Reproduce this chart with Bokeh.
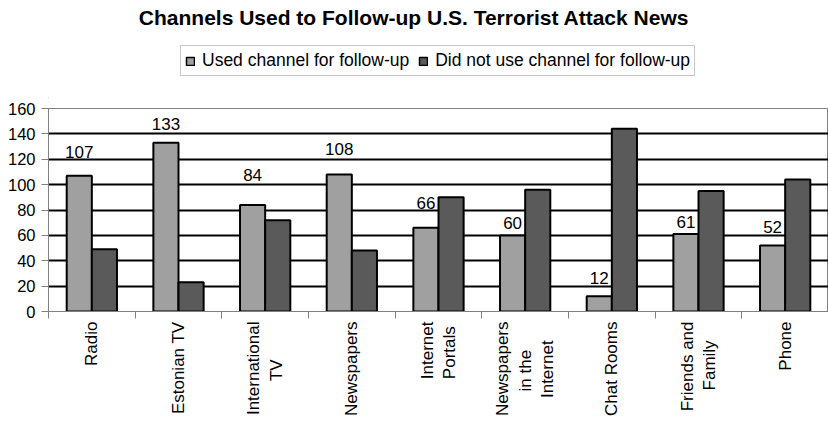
from math import pi
from bokeh.plotting import figure
from bokeh.layouts import column
from bokeh.models import (Range1d, LinearAxis, FixedTicker, Label,
                          Legend, LegendItem, ColumnDataSource)
from bokeh.embed import file_html
from bokeh.resources import INLINE
from bokeh.core.properties import value

# ---------------- data ----------------
title_text = "Channels Used to Follow-up U.S. Terrorist Attack News"
categories = ["Radio", "Estonian TV", "International\nTV", "Newspapers", "Internet\nPortals",
              "Newspapers\nin the\nInternet", "Chat Rooms", "Friends and\nFamily", "Phone"]
used = [107, 133, 84, 108, 66, 60, 12, 61, 52]
not_used = [49, 23, 72, 48, 90, 96, 144, 95, 104]
series_names = ["Used channel for follow-up", "Did not use channel for follow-up"]
y_ticks = [0, 20, 40, 60, 80, 100, 120, 140, 160]

# ---------------- style ----------------
FONT = "Liberation Sans"
LIGHT = "#a0a0a0"
DARK = "#5a5a5a"
AXIS_GRAY = "#808080"
label_offsets_px = [24, 19, 30, 25, 25, 12, 18, 12, 19]  # label lift above bar top (px)
bw = 0.29  # bar width in category units
W, HEAD_H, MAIN_H = 828, 98, 327
FRAME_LEFT = 48

# approximate Arial advance widths (1/1000 em) to centre multi-line axis labels
_W = {' ': 278, 'a': 556, 'd': 556, 'e': 556, 'h': 556, 'i': 222, 'l': 222, 'm': 833,
      'n': 556, 'o': 556, 'p': 556, 'r': 333, 's': 500, 't': 278, 'w': 722, 'y': 500,
      'F': 611, 'I': 278, 'N': 722, 'P': 667, 'T': 611, 'V': 667, 'R': 722, 'E': 667,
      'C': 722, 'c': 500, 'u': 556, 'k': 500, 'f': 278, 'b': 556, 'g': 556}


def _width(s):
    return sum(_W.get(ch, 556) for ch in s)


def centred(label):
    lines = label.split("\n")
    full = max(_width(l) for l in lines)
    return "\n".join(l + "\u00a0" * round((full - _width(l)) / 2 / 278) for l in lines)


n = len(categories)
centers = [i + 0.5 for i in range(n)]
src = ColumnDataSource(dict(
    x_used=[c - bw / 2 for c in centers],
    x_not=[c + bw / 2 for c in centers],
    used=used,
    not_used=not_used,
    used_txt=[str(v) for v in used],
    yoff=[-o for o in label_offsets_px],
))

# ================= header figure: title + legend =================
head = figure(width=W, height=HEAD_H, x_range=Range1d(0, W), y_range=Range1d(0, HEAD_H),
              output_backend="svg", toolbar_location=None,
              x_axis_location=None, y_axis_location=None,
              min_border=0, min_border_left=0, min_border_right=0,
              min_border_top=0, min_border_bottom=0)
head.title_location = None
head.outline_line_color = None
head.xgrid.visible = False
head.ygrid.visible = False
head.background_fill_color = "white"
head.border_fill_color = "white"
# legend swatches only (kept outside the visible header area)
swatch = ColumnDataSource(dict(x=[-100], top=[-100]))
h1 = head.vbar(x="x", top="top", width=1, source=swatch,
               fill_color=LIGHT, line_color="black", line_width=1.5)
h2 = head.vbar(x="x", top="top", width=1, source=swatch,
               fill_color=DARK, line_color="black", line_width=1.5)
head.add_layout(Label(x=413.5 - FRAME_LEFT, y=HEAD_H - 17, x_units="screen", y_units="screen",
                      text=title_text, text_align="center", text_baseline="alphabetic",
                      text_font=FONT, text_font_style="bold", text_font_size="21px",
                      text_color="black"))
legend = Legend(items=[LegendItem(label=series_names[0], renderers=[h1]),
                       LegendItem(label=series_names[1], renderers=[h2])],
                orientation="horizontal", location=(180 - FRAME_LEFT, HEAD_H - 76),
                border_line_color="#909090", border_line_width=1,
                background_fill_color="white", background_fill_alpha=1,
                glyph_width=10, glyph_height=10, label_standoff=7, spacing=9,
                padding=4, margin=0, label_height=20,
                label_text_font=FONT, label_text_font_size="17.5px",
                label_text_color="black")
head.add_layout(legend)

# ================= main chart =================
p = figure(width=W, height=MAIN_H,
           x_range=Range1d(0, n),
           y_range=Range1d(y_ticks[0], y_ticks[-1]),
           output_backend="svg", toolbar_location=None,
           x_axis_location=None,
           min_border_left=FRAME_LEFT, min_border_right=0,
           min_border_top=10, min_border_bottom=114)
p.title_location = None
p.background_fill_color = "white"
p.border_fill_color = "white"
p.outline_line_color = AXIS_GRAY
p.outline_line_width = 1

# grid
p.xgrid.visible = False
p.ygrid.ticker = FixedTicker(ticks=y_ticks[1:-1])
p.ygrid.grid_line_color = "black"
p.ygrid.grid_line_width = 2

# y axis
ya = p.yaxis[0]
ya.ticker = FixedTicker(ticks=y_ticks)
ya.axis_line_color = AXIS_GRAY
ya.major_tick_line_color = AXIS_GRAY
ya.major_tick_out = 7
ya.major_tick_in = 0
ya.minor_tick_line_color = None
ya.major_label_standoff = 6
ya.major_label_text_font = FONT
ya.major_label_text_font_size = "16.5px"
ya.major_label_text_color = "black"

# x axis: boundary ticks + category labels
tick_axis = LinearAxis(ticker=FixedTicker(ticks=list(range(n + 1))),
                       major_tick_out=7, major_tick_in=0,
                       minor_tick_line_color=None,
                       axis_line_color=AXIS_GRAY, major_tick_line_color=AXIS_GRAY,
                       major_label_text_font_size="0px", major_label_standoff=0,
                       major_label_overrides={i: "" for i in range(n + 1)})
p.add_layout(tick_axis, "below")
cat_axis = LinearAxis(ticker=FixedTicker(ticks=centers),
                      major_label_overrides={c: centred(lab) for c, lab in zip(centers, categories)},
                      major_tick_line_color=None, axis_line_color=None,
                      minor_tick_line_color=None,
                      major_label_orientation=pi / 2,
                      major_label_standoff=-3,
                      major_label_text_font=FONT,
                      major_label_text_font_size="17px",
                      major_label_text_color="black")
p.add_layout(cat_axis, "below")

# bars
r1 = p.vbar(x="x_used", top="used", width=bw, source=src,
            fill_color=LIGHT, line_color="black", line_width=2)
r2 = p.vbar(x="x_not", top="not_used", width=bw, source=src,
            fill_color=DARK, line_color="black", line_width=2)

# value labels
p.text(x="x_used", y="used", text="used_txt", source=src,
       y_offset="yoff", text_align="center", text_baseline="middle",
       text_font=value(FONT), text_font_size="17px", text_color="black")

layout = column(head, p, spacing=0)
open("out.html", "w").write(file_html(layout, INLINE))
